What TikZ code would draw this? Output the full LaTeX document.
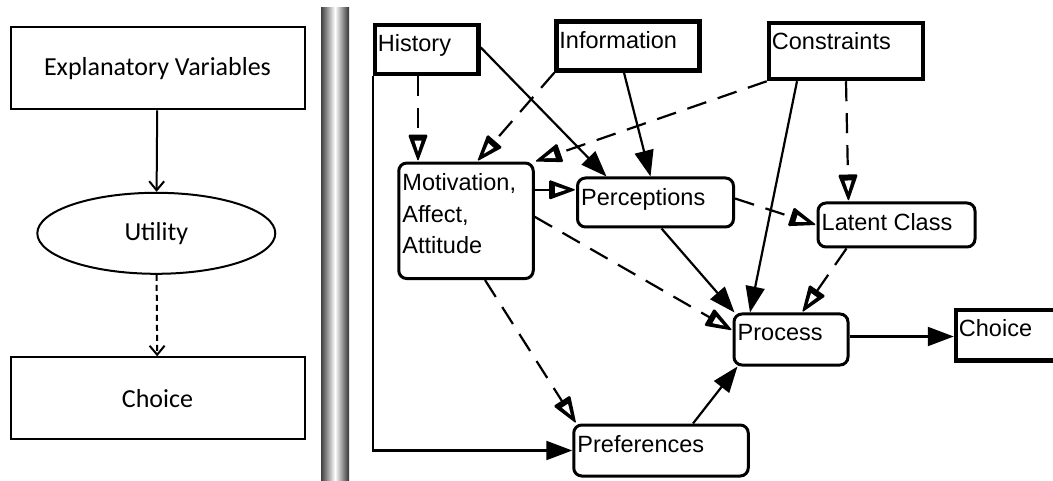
\documentclass[tikz,border=0pt]{standalone}
\usepackage{fontspec}
\setmainfont{Liberation Sans}
\newfontfamily\calib{Carlito}
\usetikzlibrary{arrows.meta,shapes.geometric,decorations.markings}

\begin{document}
\begin{tikzpicture}[x=1pt,y=-1pt,
  plainbox/.style={draw, line width=2pt, minimum width=294pt, minimum height=82pt, inner sep=0pt, font=\calib\fontsize{26}{30}\selectfont},
  util/.style={draw, ellipse, line width=2pt, minimum width=238pt, minimum height=81pt, inner sep=0pt, font=\calib\fontsize{26}{30}\selectfont},
  hardbox/.style={draw, line width=4.5pt, inner sep=0pt},
  softbox/.style={draw, line width=3pt, rounded corners=8pt, inner sep=0pt},
  txt/.style={anchor=north west, inner xsep=5pt, inner ysep=12pt, align=left, font=\fontsize{23.5}{31.5}\selectfont},
  simple/.style={line width=2pt, -{Straight Barb[length=9pt,width=15pt]}},
  link/.style={line width=2.2pt, -{Triangle[length=26pt,width=19pt]}},
  % hollow head: black triangle with a small white hole
  olink/.style={line width=2.2pt, shorten >=24pt,
    postaction={decorate, decoration={markings, mark=at position 1 with {
      \fill[black, rounded corners=1.5pt] (0pt,0pt) -- (-27pt,10pt) -- (-27pt,-10pt) -- cycle;
      \fill[white] (-10pt,0pt) -- (-21pt,3.6pt) -- (-21pt,-3.6pt) -- cycle;}}}},
  dlink/.style={olink, dash pattern=on 20pt off 12pt},
]

%page
\useasboundingbox (0,0) rectangle (1053,481);
\clip (0,0) rectangle (1053,481);
\fill[white] (0,0) rectangle (1053,481);

%left side
\node[plainbox] (expl) at (157.5,68.3) {Explanatory Variables};
\node[util] (util) at (156.3,233.3) {Utility};
\node[plainbox] (cho1) at (157.5,398.3) {Choice};

\draw[simple] (expl) -- (util);
\draw[simple, dash pattern=on 6pt off 4pt] (util) -- (cho1);

%divider
\shade[left color=black!75, right color=black!80, middle color=white] (321,8) rectangle (349,481);

%right side, top row
\node[hardbox, minimum width=103.5pt, minimum height=48.8pt, label={[txt]north west:History}] (hist) at (426.7,49.4) {};
\node[hardbox, minimum width=143pt, minimum height=49pt, label={[txt]north west:Information}] (info) at (628,46) {};
\node[hardbox, minimum width=154pt, minimum height=56pt, label={[txt]north west:Constraints}] (cons) at (846,51) {};

%middle
\node[softbox, minimum width=134.5pt, minimum height=115.5pt, label={[txt]north west:{Motivation,\\Affect,\\Attitude}}] (mot) at (466,220.8) {};
\node[softbox, minimum width=156pt, minimum height=49pt, label={[txt]north west:Perceptions}] (perc) at (655.5,202.5) {};
\node[softbox, minimum width=157pt, minimum height=44pt, label={[txt]north west:Latent Class}] (lat) at (896.5,225) {};
\node[softbox, minimum width=114pt, minimum height=51pt, label={[txt]north west:Process}] (proc) at (791,339.5) {};
\node[hardbox, minimum width=100pt, minimum height=50.5pt, label={[txt]north west:Choice}] (cho2) at (1006,335.2) {};
\node[softbox, minimum width=174.5pt, minimum height=51pt, label={[txt]north west:Preferences}] (pref) at (661,450.5) {};

%helper points
\coordinate (h1) at ([xshift=-8.7pt]hist.south);
\coordinate (m1) at ([yshift=31pt]mot.east);
\coordinate (p1) at ([yshift=3pt]proc.east);

%arrows
\draw[link] (hist.south west) |- (pref.west);
\draw[dlink] (h1) -- (h1 |- mot.north);
\draw[link] ([yshift=2pt]hist.east) -- ([xshift=-49pt]perc.north);
\draw[dlink] (info.south west) -- ([xshift=11pt]mot.north);
\draw[link] ([xshift=-4pt]info.south) -- ([xshift=-5pt]perc.north);
\draw[dlink] (cons.south west) -- (mot.north east);
\draw[link] ([xshift=-49pt]cons.south) -- ([xshift=-41pt]proc.north);
\draw[dlink] (cons.south) -- ([xshift=-48pt]lat.north);
\draw[olink] (m1) -- (m1 -| perc.west);
\draw[dlink] ([yshift=4pt]perc.east) -- (lat.west);
\draw[dlink] ([yshift=4pt]mot.east) -- ([yshift=9pt]proc.west);
\draw[dlink] ([xshift=19pt]mot.south) -- ([xshift=4pt]pref.north west);
\draw[link] ([xshift=6pt]perc.south) -- ([xshift=2pt]proc.north west);
\draw[dlink] ([xshift=-50pt]lat.south) -- ([xshift=11pt]proc.north);
\draw[link] ([xshift=32pt]pref.north) -- ([xshift=5pt]proc.south west);
\draw[link] (p1) -- (p1 -| cho2.west);

\end{tikzpicture}
\end{document}
